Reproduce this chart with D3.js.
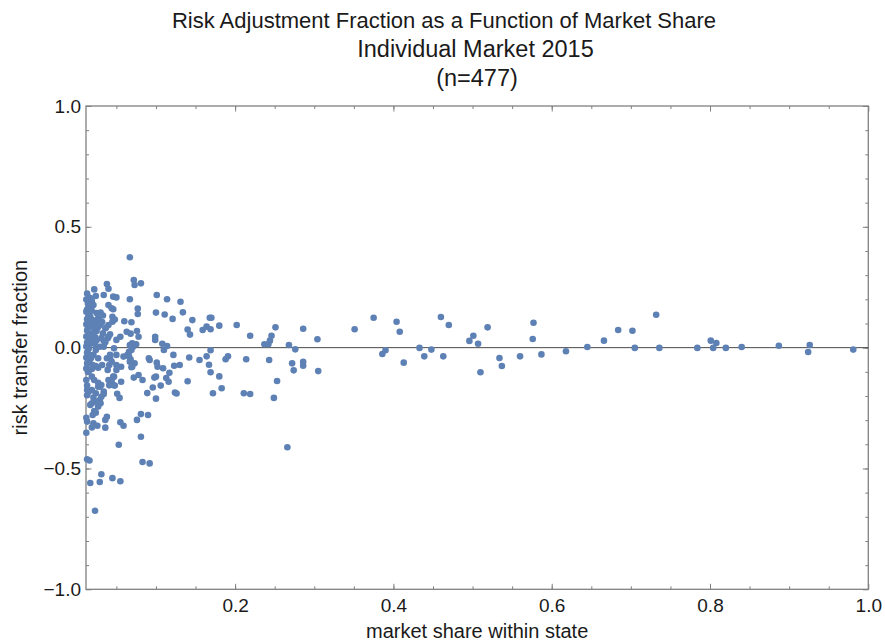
<!DOCTYPE html>
<html>
<head>
<meta charset="utf-8">
<script src="https://cdnjs.cloudflare.com/ajax/libs/d3/7.8.5/d3.min.js"></script>
<style>
    body { margin: 0; background: #fff; }
    text { font-family: "Liberation Sans", Arial, sans-serif; fill: #1a1a1a; }
</style>
</head>
<body>
<svg id="chart" width="885" height="643"></svg>
<script>
var titleLines = ['Risk Adjustment Fraction as a Function of Market Share', 'Individual Market 2015', '(n=477)'];
var xLabel = 'market share within state';
var yLabel = 'risk transfer fraction';

var xMajorTicks = [0.2, 0.4, 0.6, 0.8, 1.0];
var yMajorTicks = [-1.0, -0.5, 0.0, 0.5, 1.0];

// [market share, risk transfer fraction]
var largeShare = [
    [0.304, 0.035], [0.305, -0.097], [0.351, 0.076], [0.375, 0.124], [0.386, -0.026], [0.390, -0.011],
    [0.404, 0.107], [0.408, 0.066], [0.413, -0.062], [0.433, -0.001], [0.439, -0.036], [0.448, -0.008],
    [0.460, 0.127], [0.470, 0.094], [0.463, -0.036], [0.496, 0.028], [0.501, 0.049], [0.507, 0.016],
    [0.519, 0.084], [0.510, -0.102], [0.534, -0.043], [0.537, -0.076], [0.560, -0.036], [0.577, 0.103],
    [0.576, 0.036], [0.587, -0.028], [0.618, -0.015], [0.645, 0.003], [0.666, 0.029], [0.684, 0.073],
    [0.702, 0.070], [0.705, -0.001], [0.732, 0.136], [0.736, -0.001], [0.784, -0.001], [0.801, 0.029],
    [0.808, 0.019], [0.804, -0.001], [0.820, -0.001], [0.840, 0.003], [0.887, 0.008], [0.926, 0.011],
    [0.924, -0.018], [0.981, -0.008]
];

var midShare = [
    [0.159, 0.073], [0.164, 0.087], [0.168, 0.124], [0.170, 0.124], [0.169, 0.076], [0.180, 0.091],
    [0.155, -0.051], [0.164, -0.036], [0.169, -0.011], [0.167, -0.071], [0.169, -0.102], [0.180, -0.119],
    [0.183, -0.168], [0.172, -0.189], [0.188, -0.048], [0.191, -0.036], [0.202, 0.094], [0.214, -0.048],
    [0.219, 0.049], [0.211, -0.189], [0.219, -0.192], [0.237, 0.014], [0.242, 0.014], [0.244, 0.029],
    [0.246, 0.049], [0.251, 0.084], [0.243, -0.051], [0.253, -0.138], [0.249, -0.208], [0.266, -0.412],
    [0.268, 0.011], [0.276, -0.007], [0.272, -0.065], [0.274, -0.094], [0.286, 0.078], [0.286, -0.059],
    [0.286, -0.075],
    [0.101, 0.218], [0.114, 0.200], [0.131, 0.190], [0.100, 0.145], [0.111, 0.137], [0.121, 0.119],
    [0.134, 0.146], [0.146, 0.114], [0.140, 0.075], [0.143, 0.054], [0.108, 0.016], [0.114, 0.007],
    [0.110, -0.010], [0.122, -0.030], [0.142, -0.041], [0.101, -0.062], [0.102, -0.079], [0.109, -0.085],
    [0.123, -0.075], [0.130, -0.072], [0.117, -0.104], [0.100, -0.120], [0.113, -0.126], [0.116, -0.141],
    [0.106, -0.157], [0.140, -0.139], [0.124, -0.186], [0.126, -0.190], [0.100, -0.211]
];

var smallShare = [
    [0.099, 0.045], [0.099, 0.032], [0.096, -0.165], [0.089, -0.188], [0.091, -0.044], [0.098, -0.124],
    [0.067, 0.374], [0.072, 0.280], [0.073, 0.259], [0.081, 0.266], [0.038, 0.263], [0.040, 0.244],
    [0.022, 0.241], [0.034, 0.218], [0.046, 0.211], [0.050, 0.208], [0.067, 0.200], [0.040, 0.176],
    [0.044, 0.163], [0.046, 0.159], [0.077, 0.162], [0.077, 0.139], [0.030, 0.145], [0.033, 0.133],
    [0.045, 0.128], [0.048, 0.116], [0.045, 0.107], [0.060, 0.109], [0.069, 0.105], [0.037, 0.083],
    [0.042, 0.055], [0.039, 0.039], [0.063, 0.066], [0.068, 0.058], [0.076, 0.069], [0.078, 0.045],
    [0.055, 0.045], [0.070, 0.018], [0.071, 0.004], [0.075, 0.014], [0.034, 0.004], [0.024, 0.007],
    [0.050, -0.030], [0.042, -0.044], [0.066, -0.017], [0.066, -0.037], [0.068, -0.049], [0.041, -0.072],
    [0.039, -0.092], [0.032, -0.072], [0.024, -0.076], [0.056, -0.079], [0.050, -0.092], [0.070, -0.079],
    [0.073, -0.065], [0.019, -0.120], [0.022, -0.134], [0.027, -0.145], [0.029, -0.162], [0.047, -0.120],
    [0.044, -0.138], [0.041, -0.156], [0.056, -0.141], [0.072, -0.124], [0.078, -0.113], [0.083, -0.134],
    [0.013, -0.175], [0.024, -0.189], [0.034, -0.192], [0.051, -0.191], [0.054, -0.208], [0.036, 0.022],
    [0.029, 0.004], [0.050, 0.032], [0.047, -0.003], [0.067, 0.011], [0.069, -0.010], [0.021, -0.030],
    [0.027, -0.044], [0.038, -0.044], [0.042, -0.030], [0.044, -0.058], [0.050, -0.072], [0.059, -0.037],
    [0.064, -0.030], [0.067, -0.058], [0.069, -0.081], [0.092, -0.051], [0.020, -0.072], [0.027, -0.083],
    [0.012, -0.134], [0.013, -0.157], [0.019, -0.175], [0.021, -0.207], [0.031, -0.155], [0.027, -0.162],
    [0.034, -0.182], [0.031, -0.203], [0.040, -0.134], [0.046, -0.120], [0.048, -0.157], [0.029, -0.217],
    [0.025, -0.224], [0.017, -0.237], [0.022, -0.262], [0.020, -0.279], [0.019, -0.230], [0.027, -0.244],
    [0.030, -0.230], [0.024, -0.269], [0.081, -0.275], [0.090, -0.279], [0.076, -0.299], [0.038, -0.286],
    [0.036, -0.299], [0.021, -0.313], [0.026, -0.323], [0.019, -0.330], [0.036, -0.331], [0.055, -0.309],
    [0.059, -0.323], [0.012, -0.290], [0.013, -0.306], [0.081, -0.369], [0.053, -0.402], [0.013, -0.462],
    [0.016, -0.467], [0.083, -0.473], [0.092, -0.479], [0.031, -0.524], [0.017, -0.560], [0.029, -0.556],
    [0.045, -0.540], [0.055, -0.553], [0.023, -0.675], [0.015, -0.182], [0.046, -0.155]
];

// the crowded strip next to the left frame
var tinyShare = [
    [0.013, 0.224], [0.015, 0.207], [0.012, 0.199], [0.014, 0.183], [0.016, 0.174], [0.013, 0.158],
    [0.012, 0.149], [0.015, 0.135], [0.013, 0.118], [0.016, 0.104], [0.012, 0.097], [0.014, 0.081],
    [0.013, 0.071], [0.016, 0.058], [0.012, 0.046], [0.015, 0.030], [0.013, 0.021], [0.012, 0.005],
    [0.015, -0.004], [0.013, -0.020], [0.016, -0.031], [0.012, -0.041], [0.014, -0.057], [0.013, -0.066],
    [0.012, -0.086], [0.015, -0.099], [0.013, -0.197], [0.012, -0.352],
    [0.019, 0.193], [0.021, 0.176], [0.019, 0.153], [0.017, 0.128], [0.020, 0.114], [0.023, 0.102],
    [0.018, 0.090], [0.022, 0.077], [0.025, 0.069], [0.019, 0.056], [0.023, 0.044], [0.017, 0.032],
    [0.025, 0.031], [0.020, 0.019], [0.015, 0.003], [0.024, -0.010], [0.027, 0.085], [0.027, 0.121],
    [0.025, 0.143], [0.024, 0.214], [0.017, 0.205],
    [0.029, 0.094], [0.036, 0.080], [0.040, 0.094], [0.033, 0.059], [0.040, 0.045], [0.031, 0.040],
    [0.034, 0.028], [0.028, 0.114], [0.032, 0.106],
    [0.014, -0.022], [0.018, -0.043], [0.016, -0.060], [0.019, -0.088], [0.014, -0.101]
];

var points = tinyShare.concat(smallShare, midShare, largeShare);

var frame = { left: 86, top: 106, right: 868.3, bottom: 589.3 };
var frameColor = '#808080';
var pointColor = '#5e81b5';

var svg = d3.select('#chart');

var x = d3.scaleLinear().domain([0.0116, 1.0]).range([frame.left, frame.right]);
var y = d3.scaleLinear().domain([-1, 1]).range([frame.bottom, frame.top]);

var xMinorTicks = d3.range(1, 20).map(function(i) { return i * 0.05; });
var yMinorTicks = d3.range(-9, 10).map(function(i) { return i * 0.1; });
var fmt = d3.format('.1f');

function addAxis(axis, transform, showLabels) {
    var g = svg.append('g')
        .attr('transform', transform)
        .call(axis);
    g.select('.domain').remove();
    g.selectAll('line').attr('stroke', frameColor).attr('stroke-width', 1);
    if (showLabels) {
        g.selectAll('text')
            .attr('fill', '#1a1a1a')
            .style('font-size', '19px')
            .style('font-family', '"Liberation Sans", Arial, sans-serif');
    } else {
        g.selectAll('text').remove();
    }
    return g;
}

// ticks on all four sides point into the frame
addAxis(d3.axisBottom(x).tickValues(xMinorTicks).tickSizeInner(-3).tickSizeOuter(0).tickFormat(''),
    'translate(0,' + frame.bottom + ')', false);
addAxis(d3.axisTop(x).tickValues(xMinorTicks).tickSizeInner(-3).tickSizeOuter(0).tickFormat(''),
    'translate(0,' + frame.top + ')', false);
addAxis(d3.axisLeft(y).tickValues(yMinorTicks).tickSizeInner(-3).tickSizeOuter(0).tickFormat(''),
    'translate(' + frame.left + ',0)', false);
addAxis(d3.axisRight(y).tickValues(yMinorTicks).tickSizeInner(-3).tickSizeOuter(0).tickFormat(''),
    'translate(' + frame.right + ',0)', false);

addAxis(d3.axisBottom(x).tickValues(xMajorTicks).tickSizeInner(-5.5).tickSizeOuter(0).tickPadding(9).tickFormat(fmt),
    'translate(0,' + frame.bottom + ')', true);
addAxis(d3.axisTop(x).tickValues(xMajorTicks).tickSizeInner(-5.5).tickSizeOuter(0),
    'translate(0,' + frame.top + ')', false);
addAxis(d3.axisLeft(y).tickValues(yMajorTicks).tickSizeInner(-5.5).tickSizeOuter(0).tickPadding(5).tickFormat(fmt),
    'translate(' + frame.left + ',0)', true);
addAxis(d3.axisRight(y).tickValues(yMajorTicks).tickSizeInner(-5.5).tickSizeOuter(0),
    'translate(' + frame.right + ',0)', false);

svg.append('rect')
    .attr('x', frame.left)
    .attr('y', frame.top)
    .attr('width', frame.right - frame.left)
    .attr('height', frame.bottom - frame.top)
    .attr('fill', 'none')
    .attr('stroke', frameColor)
    .attr('stroke-width', 1.3);

// zero reference line
svg.append('line')
    .attr('x1', frame.left)
    .attr('x2', frame.right)
    .attr('y1', y(0))
    .attr('y2', y(0))
    .attr('stroke', '#4a4a4a')
    .attr('stroke-width', 1);

svg.append('g')
    .selectAll('circle')
    .data(points)
    .enter()
    .append('circle')
    .attr('cx', function(d) { return x(d[0]); })
    .attr('cy', function(d) { return y(d[1]); })
    .attr('r', 3.3)
    .attr('fill', pointColor);

// first title line sits a little left of the other two in the original
var titleX = [444, 475.5, 477];
var titleSize = [22, 23.5, 23.5];
svg.append('g')
    .selectAll('text')
    .data(titleLines)
    .enter()
    .append('text')
    .attr('x', function(d, i) { return titleX[i]; })
    .attr('y', function(d, i) { return 28 + i * 29.2; })
    .attr('text-anchor', 'middle')
    .style('font-size', function(d, i) { return titleSize[i] + 'px'; })
    .text(function(d) { return d; });

svg.append('text')
    .attr('x', (frame.left + frame.right) / 2)
    .attr('y', 638)
    .attr('text-anchor', 'middle')
    .style('font-size', '20px')
    .text(xLabel);

svg.append('text')
    .attr('transform', 'translate(27,' + y(0) + ') rotate(-90)')
    .attr('text-anchor', 'middle')
    .style('font-size', '20px')
    .text(yLabel);
</script>
</body>
</html>
